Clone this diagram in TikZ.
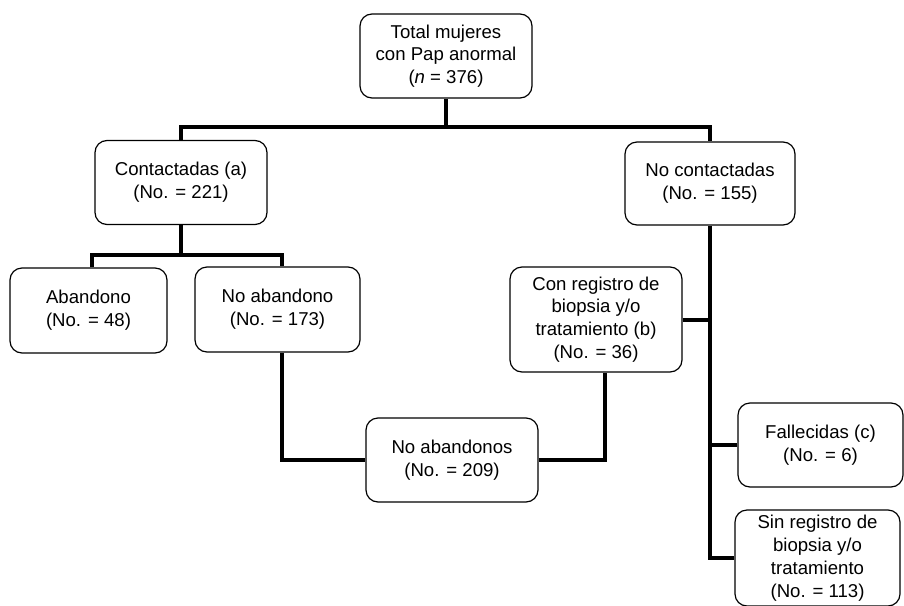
\documentclass[tikz,border=0pt]{standalone}
\usepackage{fontspec}
\setmainfont{Liberation Sans}
\usepackage{tikz}

\begin{document}
\begin{tikzpicture}[
  x=0.5pt, y=-0.5pt,
  font=\fontsize{9.3}{11.4}\selectfont,
  box/.style={draw, line width=0.6pt, rounded corners=6pt, align=center,
    inner sep=2pt, minimum width=#1},
  box/.default=86pt,
  conn/.style={line width=2pt}
]
\useasboundingbox (0,0) rectangle (904,605);

\node[box, minimum height=42pt] (total) at (446,56) {Total mujeres\\con Pap anormal\\(\textit{n} = 376)};
\node[box, minimum height=42pt] (cont) at (181,182.5) {Contactadas (a)\\(No. = 221)};
\node[box=85pt, minimum height=41.5pt] (nocont) at (710,183.5) {No contactadas\\(No. = 155)};
\node[box=78.5pt, minimum height=42.5pt] (aband) at (88.5,310.5) {Abandono\\(No. = 48)};
\node[box=82.5pt, minimum height=42.5pt] (noaband) at (277.5,309.5) {No abandono\\(No. = 173)};
\node[box, minimum height=52.5pt] (conreg) at (596,319.5) {Con registro de\\biopsia y/o\\tratamiento (b)\\(No. = 36)};
\node[box, minimum height=42pt] (noabs) at (452,460) {No abandonos\\(No. = 209)};
\node[box=82.5pt, minimum height=42pt] (fall) at (820.5,445) {Fallecidas (c)\\(No. = 6)};
\node[box=82.5pt, minimum height=48pt] (sinreg) at (817.5,558) {Sin registro de\\biopsia y/o\\tratamiento\\(No. = 113)};

\coordinate (split1) at (446,127);
\coordinate (split2) at (181,255);
\coordinate (trunk) at (710,560);

\draw[conn] (total) -- (split1);
\draw[conn] (cont.north) |- (split1) -| (nocont.north);
\draw[conn] (cont) -- (split2);
\draw[conn] ([xshift=1.75pt]aband.north) |- (split2) -| ([xshift=2.25pt]noaband.north);
\draw[conn] ([xshift=2.25pt]noaband.south) |- (noabs.west);
\draw[conn] (noabs.east) -| ([xshift=4.5pt]conreg.south);
\draw[conn] (nocont.south) |- (sinreg.west);
\draw[conn] (conreg.east) -- (conreg.east -| nocont.south);
\draw[conn] (fall.west) -- (fall.west -| nocont.south);
\end{tikzpicture}
\end{document}
